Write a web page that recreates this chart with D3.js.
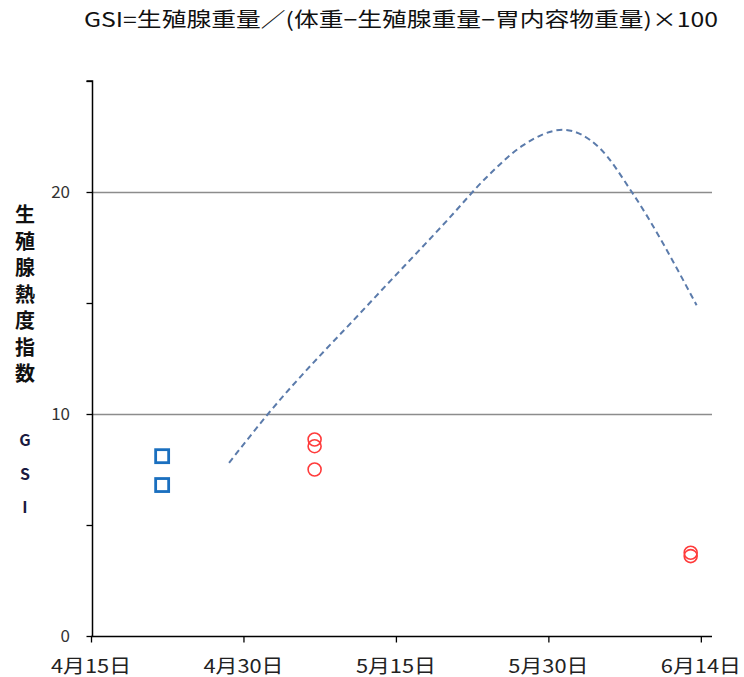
<!DOCTYPE html>
<html>
<head>
<meta charset="utf-8">
<script src="https://cdn.jsdelivr.net/npm/d3@7"></script>
<style>
  html, body { margin: 0; padding: 0; background: #fff; }
  svg { display: block; font-family: "Noto Sans CJK JP", "Noto Sans", sans-serif; }
</style>
</head>
<body>
<svg id="chart" width="744" height="677"></svg>
<script>
// ---- data ----
const titleText = "GSI=生殖腺重量／(体重−生殖腺重量−胃内容物重量)×100";
const yLabelChars = ["生", "殖", "腺", "熱", "度", "指", "数"];
const yLabelLatin = ["G", "S", "I"];

const xDomain = ["2024-04-15", "2024-06-15"];
const xTickDates = ["2024-04-15", "2024-04-30", "2024-05-15", "2024-05-30", "2024-06-14"];
const xTickLabels = ["4月15日", "4月30日", "5月15日", "5月30日", "6月14日"];
const yDomain = [0, 25];
const yTickValues = [0, 5, 10, 15, 20, 25];
const yLabelValues = [0, 10, 20];
const gridValues = [10, 20];

// measured samples (blue squares, red circles)
const squareDates = ["2024-04-22", "2024-04-22"];
const squareValues = [8.1, 6.8];
const circleDates = ["2024-05-07", "2024-05-07", "2024-05-07", "2024-06-13", "2024-06-13"];
const circleValues = [8.85, 8.55, 7.5, 3.75, 3.6];

// dashed trend curve
const curveDates = ["2024-04-28T14:00", "2024-05-02T10:00", "2024-05-12T10:00", "2024-05-20T00:00",
                    "2024-05-24T00:00", "2024-05-27T12:00", "2024-05-31T10:00", "2024-06-04T00:00",
                    "2024-06-07T05:00", "2024-06-13T14:00"];
const curveValues = [7.8, 10.0, 15.0, 18.7, 20.7, 22.1, 22.8, 22.0, 20.0, 14.9];

// ---- chart ----
const svg = d3.select("#chart");
const parse = s => new Date(s);
const x = d3.scaleTime().domain(xDomain.map(parse)).range([91, 711]);
const y = d3.scaleLinear().domain(yDomain).range([636, 81]);

// title
svg.append("text")
  .attr("x", 84).attr("y", 27)
  .attr("textLength", 634).attr("lengthAdjust", "spacingAndGlyphs")
  .attr("font-size", 20).attr("fill", "#111")
  .text(titleText);

// gridlines
svg.append("g").selectAll("line").data(gridValues).join("line")
  .attr("x1", 92).attr("x2", 712)
  .attr("y1", d => Math.round(y(d)) + 0.5).attr("y2", d => Math.round(y(d)) + 0.5)
  .attr("stroke", "#8c8c8c").attr("stroke-width", 1.3);

// y axis
const yAxis = d3.axisLeft(y).tickValues(yTickValues).tickSize(6).tickFormat(() => "");
const gy = svg.append("g").attr("transform", "translate(92.5,0)").call(yAxis);
gy.select(".domain").attr("stroke", "#000").attr("stroke-width", 1.5).attr("d", `M-6,${y(25)}H0V${y(0)}`);
gy.selectAll(".tick line").attr("stroke", "#000").attr("stroke-width", 1.3);
svg.append("g").selectAll("text").data(yLabelValues).join("text")
  .attr("x", 70).attr("y", d => y(d) + 6)
  .attr("text-anchor", "end").attr("font-size", 17).attr("fill", "#333")
  .text(d => d);

// x axis
const xAxis = d3.axisBottom(x).tickValues(xTickDates.map(parse)).tickSize(6).tickSizeOuter(0).tickFormat(() => "");
const gx = svg.append("g").attr("transform", "translate(0,636.5)").call(xAxis);
gx.select(".domain").attr("stroke", "#000").attr("stroke-width", 1.5).attr("d", `M91,0H712`);
gx.selectAll(".tick line").attr("stroke", "#000").attr("stroke-width", 1.3);
svg.append("g").selectAll("text").data(xTickDates).join("text")
  .attr("x", d => x(parse(d))).attr("y", 673)
  .attr("text-anchor", "middle").attr("font-size", 19).attr("fill", "#222")
  .attr("textLength", 80).attr("lengthAdjust", "spacingAndGlyphs")
  .text((d, i) => xTickLabels[i]);

// y axis title (vertical stacked)
svg.append("g").selectAll("text").data(yLabelChars).join("text")
  .attr("x", 25).attr("y", (d, i) => 222 + i * 26.5)
  .attr("text-anchor", "middle").attr("font-size", 20).attr("font-weight", "bold").attr("fill", "#111")
  .text(d => d);
svg.append("g").selectAll("text").data(yLabelLatin).join("text")
  .attr("x", 25).attr("y", (d, i) => 446 + i * 33.5)
  .attr("text-anchor", "middle").attr("font-size", 16).attr("font-weight", "bold").attr("fill", "#1a1a40")
  .text(d => d);

// dashed curve
const line = d3.line()
  .x((d, i) => x(parse(curveDates[i])))
  .y(d => y(d))
  .curve(d3.curveMonotoneX);
svg.append("path")
  .attr("d", line(curveValues))
  .attr("fill", "none").attr("stroke", "#5b7bab").attr("stroke-width", 2)
  .attr("stroke-dasharray", "6,4");

// squares
const sq = 13;
svg.append("g").selectAll("rect").data(squareValues).join("rect")
  .attr("x", (d, i) => x(parse(squareDates[i])) - sq / 2)
  .attr("y", d => y(d) - sq / 2)
  .attr("width", sq).attr("height", sq)
  .attr("fill", "none").attr("stroke", "#1a6fbf").attr("stroke-width", 2.8);

// circles
svg.append("g").selectAll("circle").data(circleValues).join("circle")
  .attr("cx", (d, i) => x(parse(circleDates[i])))
  .attr("cy", d => y(d))
  .attr("r", 6.5)
  .attr("fill", "none").attr("stroke", "#ff3b3b").attr("stroke-width", 1.6);
</script>
</body>
</html>
